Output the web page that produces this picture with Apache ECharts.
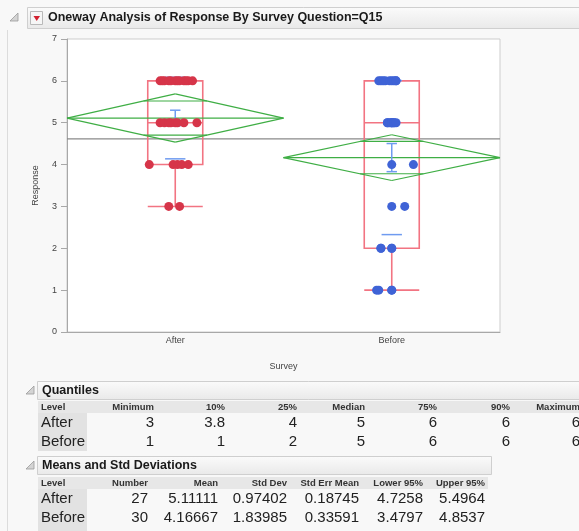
<!DOCTYPE html>
<html><head><meta charset="utf-8">
<script src="https://cdn.jsdelivr.net/npm/echarts/dist/echarts.min.js"></script>
<style>html,body{margin:0;padding:0;background:#f8f8f8}#c{width:579px;height:531px}</style>
</head><body><div id="c"></div>
<script>
// ---------- data ----------
const categories = ['After', 'Before'];
const yTicks = [0, 1, 2, 3, 4, 5, 6, 7];
const afterResponses  = [3,3, 4,4,4,4,4, 5,5,5,5,5,5,5,5, 6,6,6,6,6,6,6,6,6,6,6,6];
const beforeResponses = [1,1,1,1, 2,2,2,2, 3,3, 4,4, 5,5,5,5,5,5,5,5,5, 6,6,6,6,6,6,6,6,6];
// jitter, in 1/100 of a category width
const afterJitter  = [-3,2, -12,-1,1,3,6, -7,-5,-3,-2,0,1,4,10, -7,-6,-5,-3,-2,0,1,2,4,5,6,8];
const beforeJitter = [-7,-6,0,0, -5,-5,0,0, 0,6, 0,10, -2,-2,-1,0,0,0,1,1,2, -6,-5,-4,-3,-1,0,1,2,2];
const quantileColumns = ['Minimum', '10%', '25%', 'Median', '75%', '90%', 'Maximum'];
const quantileValues = [[3, 3.8, 4, 5, 6, 6, 6], [1, 1, 2, 5, 6, 6, 6]];
const meansColumns = ['Number', 'Mean', 'Std Dev', 'Std Err Mean', 'Lower 95%', 'Upper 95%'];
const meansCount = [27, 30];
const meansMean = [5.11111, 4.16667];
const meansStdDev = [0.97402, 1.83985];
const meansStdErr = [0.18745, 0.33591];
const meansLower95 = [4.7258, 3.4797];
const meansUpper95 = [5.4964, 4.8537];
const diamondLow = [4.535, 3.620];   // pooled-sd 95% CI (mean diamonds)
const diamondHigh = [5.687, 4.713];
const grandMean = 4.614;

// ---------- build ----------
const C = {red:'#d63549', blue:'#3f63d6', box:'#f27482', green:'#3fae45', sd:'#6f9bf0', gm:'#8a8a8a'};
function pts(vals, jit, idx){ return vals.map((v,i)=>[idx+0.5+jit[i]/100, v]); }
function segSeries(segs, color, width, z){
  return {type:'custom', xAxisIndex:1, yAxisIndex:0, z:z, silent:true, data:segs,
    encode:{x:[0,2], y:[1,3]},
    renderItem:function(params, api){
      const a = api.coord([api.value(0), api.value(1)]);
      const b = api.coord([api.value(2), api.value(3)]);
      return {type:'line', shape:{x1:a[0],y1:a[1],x2:b[0],y2:b[1]}, style:{stroke:color, lineWidth:width}};
    }};
}
const diamondSegs = [];
categories.forEach((c,i)=>{
  const m = meansMean[i], hi = diamondHigh[i], lo = diamondLow[i], cx = i+0.5;
  diamondSegs.push([i,m,cx,hi],[cx,hi,i+1,m],[i+1,m,cx,lo],[cx,lo,i,m],[i,m,i+1,m]);
  const h = (hi-m)/Math.SQRT2, w = 0.5*(1-1/Math.SQRT2);
  diamondSegs.push([cx-w,m+h,cx+w,m+h],[cx-w,m-h,cx+w,m-h]);
});
const sdSegs = [];
categories.forEach((c,i)=>{
  const m = meansMean[i], cx = i+0.5, sd = meansStdDev[i], se = meansStdErr[i];
  sdSegs.push([cx-0.047,m+sd,cx+0.047,m+sd],[cx-0.047,m-sd,cx+0.047,m-sd]);
  sdSegs.push([cx,m-se,cx,m+se],[cx-0.024,m+se,cx+0.024,m+se],[cx-0.024,m-se,cx+0.024,m-se]);
});
const boxData = quantileValues.map(q=>[q[0], q[2], q[3], q[4], q[6]]);

// ---------- graphics (header + tables) ----------
const FONT = '"Liberation Sans", Arial, sans-serif';
const G = [];
function txt(x,y,s,size,weight,align,color){
  G.push({type:'text', x:x, y:y, silent:true, style:{text:String(s), fontSize:size, fontWeight:weight||'normal', fontFamily:FONT, fill:color||'#1a1a1a', align:align||'left', verticalAlign:'middle'}});
}
function rect(x,y,w,h,fill,stroke){ G.push({type:'rect', silent:true, shape:{x:x,y:y,width:w,height:h}, style:{fill:fill, stroke:stroke||null, lineWidth:1}}); }
const hdrGrad = {type:'linear',x:0,y:0,x2:0,y2:1,colorStops:[{offset:0,color:'#fbfbfb'},{offset:1,color:'#e9e9e9'}]};
function disclosure(x,y){ G.push({type:'polygon', silent:true, shape:{points:[[x+7,y],[x+7,y+8],[x-1,y+8]]}, style:{fill:'#d4d4d4', stroke:'#9a9a9a', lineWidth:0.8}}); }
// outline left rule
G.push({type:'line', silent:true, shape:{x1:7.5,y1:30,x2:7.5,y2:531}, style:{stroke:'#dcdcdc', lineWidth:1}});
// title bar
rect(27.5,7.5,560,21,hdrGrad,'#cfcfcf');
disclosure(11,13);
rect(30.5,11.5,12,13,'#f6f6f6','#b9b9b9');
G.push({type:'polygon', silent:true, shape:{points:[[33.5,16],[40,16],[36.75,21]]}, style:{fill:'#d2202f'}});
txt(48,18,'Oneway Analysis of Response By Survey Question=Q15',12.5,'bold');
// Quantiles
disclosure(27,386);
rect(37.5,381.5,560,18,hdrGrad,'#cfcfcf');
txt(42,391,'Quantiles',12.5,'bold');
rect(38,401,541,12,'#e7e7e7');
rect(38,413,49,38,'#e2e2e2');
const qx = [154,225,297,365,437,510,580];
txt(41,407,'Level',9.5,'bold','left','#333');
quantileColumns.forEach((c,j)=>txt(qx[j],407,c,9.5,'bold','right','#333'));
categories.forEach((c,i)=>{
  const y = 423+i*18.5;
  txt(41,y,c,15,'normal','left','#222');
  quantileValues[i].forEach((v,j)=>txt(qx[j],y,v,15,'normal','right','#222'));
});
// Means and Std Deviations
disclosure(27,461);
rect(37.5,456.5,454,18,hdrGrad,'#cfcfcf');
txt(42,466,'Means and Std Deviations',12.5,'bold');
rect(38,477,450,12,'#e7e7e7');
rect(38,489,49,42,'#e2e2e2');
const mx = [148,218,287,359,423,485];
txt(41,483,'Level',9.5,'bold','left','#333');
meansColumns.forEach((c,j)=>txt(mx[j],483,c,9.5,'bold','right','#333'));
categories.forEach((c,i)=>{
  const y = 499+i*18.5;
  txt(41,y,c,15,'normal','left','#222');
  const row = [meansCount[i], meansMean[i], meansStdDev[i], meansStdErr[i], meansLower95[i], meansUpper95[i]];
  row.forEach((v,j)=>txt(mx[j],y,v,15,'normal','right','#222'));
});

// ---------- chart ----------
const chart = echarts.init(document.getElementById('c'), null, {renderer:'canvas'});
chart.setOption({
  animation:false,
  backgroundColor:'#f8f8f8',
  grid:{left:67, top:39, width:433, height:293, show:true, backgroundColor:'#ffffff', borderColor:'#cdcdcd', borderWidth:1},
  xAxis:[
    {type:'category', data:categories, position:'bottom', name:'Survey', nameLocation:'middle', nameGap:30,
     nameTextStyle:{fontSize:9, color:'#444', fontFamily:FONT},
     axisLine:{lineStyle:{color:'#a8a8a8'}}, axisTick:{length:5, lineStyle:{color:'#a8a8a8'}},
     axisLabel:{fontSize:9, color:'#444', margin:4, fontFamily:FONT}, splitLine:{show:false}},
    {type:'value', min:0, max:2, show:false, position:'top'}
  ],
  yAxis:{type:'value', min:yTicks[0], max:yTicks[yTicks.length-1], interval:1, name:'Response', nameLocation:'middle', nameGap:27, nameRotate:90,
     nameTextStyle:{fontSize:9, color:'#444', fontFamily:FONT},
     axisLine:{show:true, lineStyle:{color:'#a8a8a8'}}, axisTick:{show:true, length:6, lineStyle:{color:'#a8a8a8'}},
     axisLabel:{fontSize:9, color:'#444', margin:10, fontFamily:FONT}, splitLine:{show:false}},
  graphic: G,
  series:[
    segSeries([[0,grandMean,2,grandMean]], C.gm, 1.2, 2),
    {type:'boxplot', xAxisIndex:0, yAxisIndex:0, z:3, silent:true, data:boxData, boxWidth:[55,55],
     itemStyle:{color:'rgba(0,0,0,0)', borderColor:C.box, borderWidth:1.6}},
    segSeries(diamondSegs, C.green, 1.2, 4),
    segSeries(sdSegs, C.sd, 1.5, 5),
    {type:'scatter', xAxisIndex:1, yAxisIndex:0, z:6, silent:true, data:pts(afterResponses, afterJitter, 0), symbolSize:9, itemStyle:{color:C.red, opacity:1}},
    {type:'scatter', xAxisIndex:1, yAxisIndex:0, z:6, silent:true, data:pts(beforeResponses, beforeJitter, 1), symbolSize:9, itemStyle:{color:C.blue, opacity:1}}
  ]
});
</script></body></html>
